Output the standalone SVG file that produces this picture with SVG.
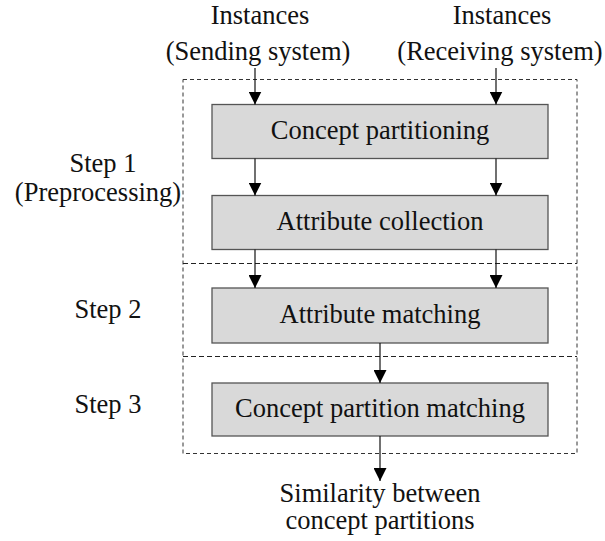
<svg xmlns="http://www.w3.org/2000/svg" width="605" height="541" viewBox="0 0 605 541">
  <style>
    text { font-family: "Liberation Serif", "Times New Roman", serif; font-size: 26.5px; fill: #111; }
    .mid { text-anchor: middle; }
    .box { fill: #d9d9d9; stroke: #555; stroke-width: 1.3; }
    .frame { fill: none; stroke: #333; stroke-width: 1; stroke-dasharray: 4 3; }
    .divider { fill: none; stroke: #222; stroke-width: 1; stroke-dasharray: 5 3; }
    .link { stroke: #111; stroke-width: 1.2; fill: none; marker-end: url(#arrow); }
  </style>
  <defs>
    <marker id="arrow" viewBox="0 0 13 13" markerWidth="13" markerHeight="13" refX="13" refY="6.5" orient="auto" markerUnits="userSpaceOnUse">
      <path d="M0,0 L13,6.5 L0,13 Z" fill="#000"/>
    </marker>
  </defs>

  <rect width="605" height="541" fill="#fff"/>

  <!-- dashed frame with step dividers -->
  <g id="frame">
    <rect class="frame" x="183" y="79.5" width="394" height="374"/>
    <line class="divider" x1="183" y1="263.5" x2="577" y2="263.5"/>
    <line class="divider" x1="183" y1="356.5" x2="577" y2="356.5"/>
  </g>

  <!-- inputs -->
  <g id="input-sending">
    <text class="mid" x="260" y="23.5">Instances</text>
    <text class="mid" x="258" y="60">(Sending system)</text>
  </g>
  <g id="input-receiving">
    <text class="mid" x="502" y="23.5">Instances</text>
    <text class="mid" x="500" y="60">(Receiving system)</text>
  </g>

  <!-- step labels -->
  <g id="step1-label">
    <text class="mid" x="103" y="171.5">Step 1</text>
    <text class="mid" x="98" y="201">(Preprocessing)</text>
  </g>
  <g id="step2-label">
    <text class="mid" x="108" y="318">Step 2</text>
  </g>
  <g id="step3-label">
    <text class="mid" x="108" y="413">Step 3</text>
  </g>

  <!-- process boxes -->
  <g id="concept-partitioning">
    <rect class="box" x="212" y="104.5" width="336" height="54"/>
    <text class="mid" x="380" y="138.5">Concept partitioning</text>
  </g>
  <g id="attribute-collection">
    <rect class="box" x="212" y="195.5" width="336" height="54"/>
    <text class="mid" x="380" y="230">Attribute collection</text>
  </g>
  <g id="attribute-matching">
    <rect class="box" x="212" y="288" width="336" height="55"/>
    <text class="mid" x="380" y="323">Attribute matching</text>
  </g>
  <g id="concept-partition-matching">
    <rect class="box" x="212" y="383" width="336" height="53"/>
    <text class="mid" x="380" y="417">Concept partition matching</text>
  </g>

  <!-- output -->
  <g id="output">
    <text class="mid" x="380" y="501.5">Similarity between</text>
    <text class="mid" x="380" y="528.5">concept partitions</text>
  </g>

  <!-- connectors -->
  <g id="connectors">
    <line class="link" x1="255" y1="68" x2="255" y2="104.5"/>
    <line class="link" x1="496" y1="68" x2="496" y2="104.5"/>
    <line class="link" x1="255" y1="158.5" x2="255" y2="195.5"/>
    <line class="link" x1="496" y1="158.5" x2="496" y2="195.5"/>
    <line class="link" x1="255" y1="249.5" x2="255" y2="288"/>
    <line class="link" x1="496" y1="249.5" x2="496" y2="288"/>
    <line class="link" x1="380" y1="343" x2="380" y2="383"/>
    <line class="link" x1="380" y1="436" x2="380" y2="481"/>
  </g>
</svg>
